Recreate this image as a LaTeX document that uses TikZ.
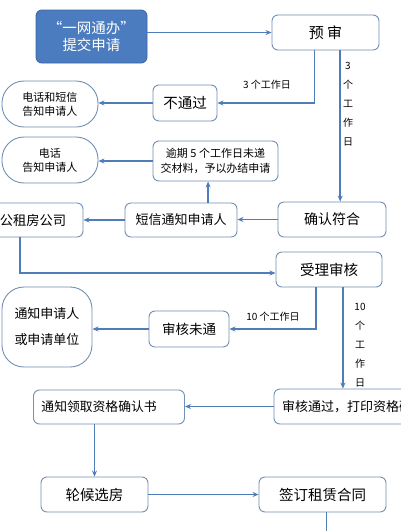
\documentclass[tikz,border=0pt]{standalone}
\usepackage{fontspec}
\setmainfont{Noto Sans CJK SC}
\usetikzlibrary{arrows.meta,calc}
\definecolor{lineblue}{HTML}{4F7DB8}
\definecolor{boxedge}{HTML}{7390B5}
\definecolor{fillblue}{HTML}{4A7CBF}
\definecolor{filledge}{HTML}{3C68A6}
\tikzset{
  box/.style={draw=boxedge, line width=0.9pt, rounded corners=6pt, fill=white, inner sep=2pt, align=center},
  stadium/.style={box, rounded corners=22pt},
  arr/.style={draw=lineblue, line width=1.4pt, -{Stealth[length=6pt,width=5pt]}},
  ln/.style={draw=lineblue, line width=1.4pt},
  lbl/.style={font=\fontsize{10}{12}\selectfont, inner sep=0pt},
  vlbl/.style={font=\fontsize{10}{19}\selectfont, inner sep=0pt, align=center},
}
\begin{document}
\begin{tikzpicture}[x=1pt,y=-1pt]
\useasboundingbox (0,0) rectangle (400,531);
\fill[white] (0,0) rectangle (400,531);
% nodes
\node[box, fill=fillblue, draw=filledge, text=white, minimum width=111pt, minimum height=53pt, font=\fontsize{14.5}{17}\selectfont] (sub) at (91.5,36.5) {“一网通办”\\提交申请};
\node[box, minimum width=107pt, minimum height=35pt, font=\fontsize{15}{18}\selectfont] (ys) at (325.5,32.5) {预\ 审};
\node[box, minimum width=64pt, minimum height=36pt, font=\fontsize{14.5}{17}\selectfont] (bt) at (185,103) {不通过};
\node[stadium, minimum width=96pt, minimum height=46pt, font=\fontsize{11}{14}\selectfont] (dh1) at (50,104) {电话和短信\\告知申请人};
\node[stadium, minimum width=96pt, minimum height=46pt, font=\fontsize{11}{14}\selectfont] (dh2) at (50,160) {电话\\告知申请人};
\node[box, minimum width=125pt, minimum height=40pt, font=\fontsize{11}{15}\selectfont] (yq) at (215.5,161) {逾期 5 个工作日未递\\交材料，予以办结申请};
\node[box, minimum width=112pt, minimum height=34pt, font=\fontsize{13}{16}\selectfont] (dx) at (181,220) {短信通知申请人};
\node[box, minimum width=108pt, minimum height=35pt, font=\fontsize{14}{17}\selectfont] (qr) at (332,219.5) {确认符合};
\node[box, minimum width=100pt, minimum height=34pt, font=\fontsize{13.3}{16}\selectfont] (gz) at (33,220) {公租房公司};
\node[box, minimum width=106pt, minimum height=35pt, font=\fontsize{14.5}{17}\selectfont] (sl) at (329,269.5) {受理审核};
\node[box, minimum width=80pt, minimum height=36pt, font=\fontsize{13.5}{16}\selectfont] (wt) at (189,329) {审核未通};
\node[stadium, minimum width=90pt, minimum height=80pt, font=\fontsize{13}{26}\selectfont] (tz) at (47,327) {通知申请人\\或申请单位};
\node[box, minimum width=172pt, minimum height=35pt, text width=160pt, align=left, inner xsep=8pt, font=\fontsize{13}{16}\selectfont] (tg) at (362,406.5) {审核通过，打印资格确认书};
\node[box, minimum width=150pt, minimum height=34pt, text width=135pt, align=left, inner xsep=8pt, font=\fontsize{12.8}{16}\selectfont] (lq) at (109,407) {通知领取资格确认书};
\node[box, minimum width=107pt, minimum height=35pt, font=\fontsize{14.5}{17}\selectfont] (lh) at (94.5,494.5) {轮候选房};
\node[box, minimum width=127pt, minimum height=35pt, font=\fontsize{14.5}{17}\selectfont] (qd) at (322.5,494.5) {签订租赁合同};
% helper coordinates
\coordinate (ysA) at ($(ys.south west)!0.40!(ys.south east)$);
\coordinate (ysB) at ($(ys.south west)!0.636!(ys.south east)$);
\coordinate (dxT) at ($(dx.north west)!0.74!(dx.north east)$);
\coordinate (gzB) at ($(gz.south west)!0.37!(gz.south east)$);
\coordinate (slA) at ($(sl.south west)!0.38!(sl.south east)$);
\coordinate (slB) at ($(sl.south west)!0.63!(sl.south east)$);
\coordinate (qdB) at ($(qd.south west)!0.53!(qd.south east)$);
\coordinate (qdEnd) at ($(qdB)+(0,40)$);
% connectors
\draw[arr] (sub.east |- ys.west) -- (ys.west);
\draw[arr] (ysA) |- (bt.east);
\draw[arr] (bt.west) -- (bt.west -| dh1.east);
\draw[arr] (ysB) -- (ysB |- qr.north);
\draw[arr] (yq.west) -- (yq.west -| dh2.east);
\draw[arr] (dxT) -- (dxT |- yq.south);
\draw[arr] (qr.west) -- (qr.west -| dx.east);
\draw[arr] (dx.west) -- (dx.west -| gz.east);
\draw[arr] (gzB) |- ($(sl.west)+(0,3.5)$);
\draw[arr] (slA) |- (wt.east);
\draw[arr] (wt.west) -- (wt.west -| tz.east);
\draw[arr] (slB) -- (slB |- tg.north);
\draw[arr] (tg.west) -- (tg.west -| lq.east);
\draw[arr] (lh.north |- lq.south) -- (lh.north);
\draw[arr] (lh.east) -- (lh.east -| qd.west);
\draw[ln] (qdB) -- (qdEnd);
% labels
\node[lbl] (l1) at (267,85) {3 个工作日};
\node[vlbl] (l2) at (348,104) {3\\个\\工\\作\\日};
\node[lbl] (l3) at (273,317) {10 个工作日};
\node[vlbl] (l4) at (360,345) {10\\个\\工\\作\\日};
\end{tikzpicture}
\end{document}
